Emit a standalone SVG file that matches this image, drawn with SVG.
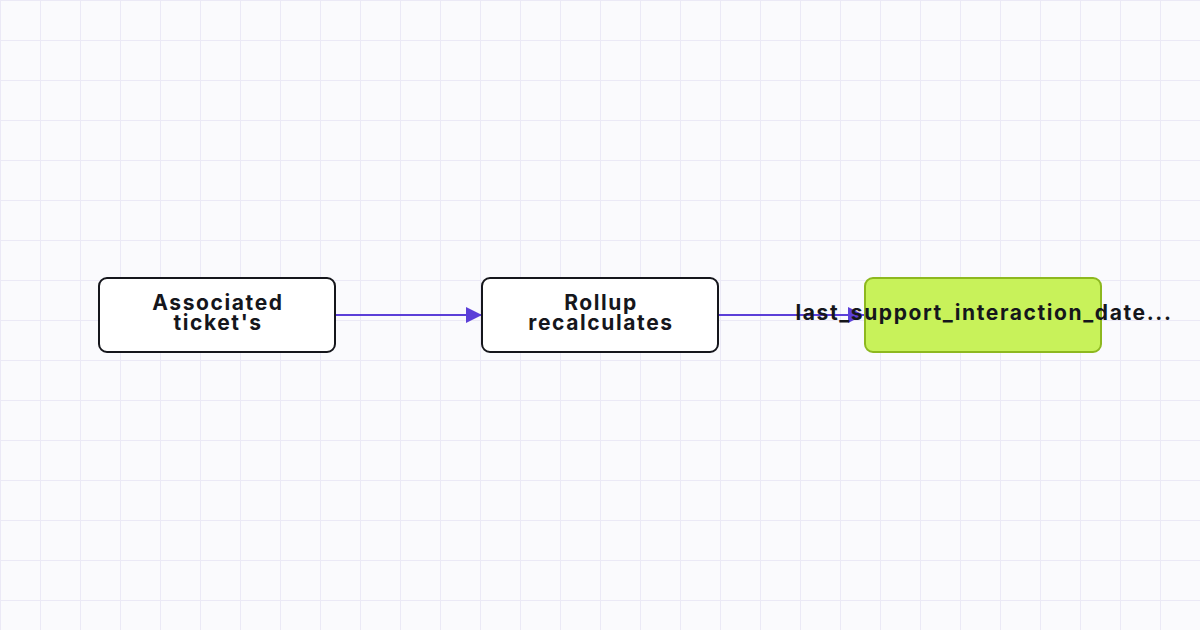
<svg xmlns="http://www.w3.org/2000/svg" width="1200" height="630" viewBox="0 0 1200 630">
<defs>
<pattern id="grid" x="0" y="0" width="40" height="40" patternUnits="userSpaceOnUse">
<rect width="40" height="40" fill="#fafafd"/>
<path d="M0 0.5 H40 M0.5 0 V40" stroke="#ebe9f6" stroke-width="1" fill="none"/>
</pattern>
<marker id="arrow" viewBox="0 0 10 10" refX="10" refY="5" markerWidth="16" markerHeight="16" markerUnits="userSpaceOnUse" orient="auto">
<path d="M0 0 L10 5 L0 10 Z" fill="#5b3fd8"/>
</marker>
<style>
.node rect{stroke-width:2}
.plain rect{fill:#ffffff;stroke:#15161c}
.hl rect{fill:#c8f25a;stroke:#8db81f}
.label{font-family:Inter,"Noto Sans",sans-serif;font-weight:700;font-size:21px;letter-spacing:1.6px;fill:#15161c;text-anchor:middle}
.edge{stroke:#5b3fd8;stroke-width:2;fill:none}
</style>
</defs>
<rect width="1200" height="630" fill="url(#grid)"/>
<g id="connectors">
<path class="edge" d="M335 315 H482" marker-end="url(#arrow)"/>
<path class="edge" d="M718 315 H864" marker-end="url(#arrow)"/>
</g>
<g id="node-associated" class="node plain">
<rect x="99" y="278" width="236" height="74" rx="8"/>
<text class="label" x="218" y="310">Associated</text>
<text class="label" x="218" y="330">ticket's</text>
</g>
<g id="node-rollup" class="node plain">
<rect x="482" y="278" width="236" height="74" rx="8"/>
<text class="label" x="601" y="310">Rollup</text>
<text class="label" x="601" y="330">recalculates</text>
</g>
<g id="node-last" class="node hl">
<rect x="865" y="278" width="236" height="74" rx="8"/>
<text class="label" x="984" y="320">last_support_interaction_date...</text>
</g>
</svg>
